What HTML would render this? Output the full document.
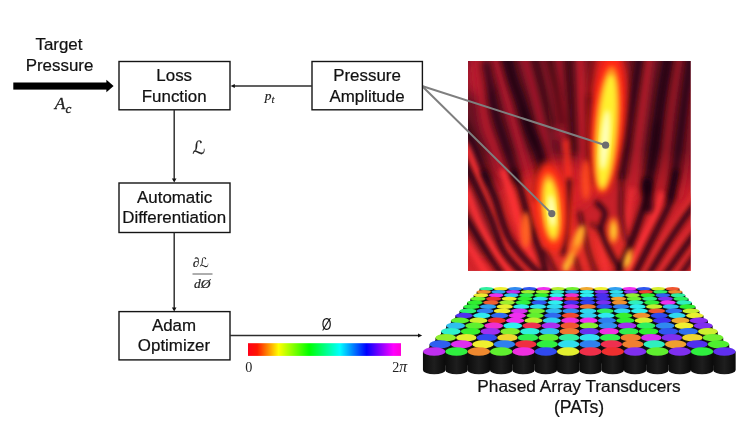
<!DOCTYPE html>
<html lang="en"><head><meta charset="utf-8"><title>Phased Array Transducer Optimization Diagram</title>
<style>html,body{margin:0;padding:0;background:#fff;}body{width:750px;height:421px;overflow:hidden;}svg{display:block;}.s{font-family:"Liberation Sans",Arial,sans-serif;font-size:16.9px;fill:#111;stroke:#111;stroke-width:0.22px;text-anchor:middle;}.m{font-family:"Liberation Serif","DejaVu Serif",serif;font-style:italic;fill:#222;}.r{font-family:"Liberation Serif","DejaVu Serif",serif;fill:#222;}.l{font-family:"DejaVu Sans","DejaVu Math TeX Gyre",sans-serif;font-style:italic;fill:#222;}</style></head><body>
<svg width="750" height="421" viewBox="0 0 750 421">
<rect width="750" height="421" fill="#fff"/>
<defs>
<clipPath id="hc"><rect x="468" y="61" width="222.5" height="209.7"/></clipPath>
<filter id="b1" x="-20%" y="-20%" width="140%" height="140%"><feGaussianBlur stdDeviation="1.2"/></filter>
<filter id="b2" x="-20%" y="-20%" width="140%" height="140%"><feGaussianBlur stdDeviation="2.5"/></filter>
<filter id="b3" x="-40%" y="-40%" width="180%" height="180%"><feGaussianBlur stdDeviation="3.9"/></filter>
<filter id="b5" x="-80%" y="-80%" width="260%" height="260%"><feGaussianBlur stdDeviation="6"/></filter>
<linearGradient id="hsv" x1="0" x2="1" y1="0" y2="0"><stop offset="0" stop-color="#ff0018"/><stop offset="0.06" stop-color="#ff1500"/><stop offset="0.2" stop-color="#ffff00"/><stop offset="0.4" stop-color="#00ff00"/><stop offset="0.6" stop-color="#00ffff"/><stop offset="0.775" stop-color="#0000ff"/><stop offset="0.95" stop-color="#ff00ff"/><stop offset="1" stop-color="#ff00d8"/></linearGradient>
<linearGradient id="cyl" x1="0" x2="1" y1="0" y2="0"><stop offset="0" stop-color="#0c0c0c"/><stop offset="0.5" stop-color="#1e1e1e"/><stop offset="1" stop-color="#0a0a0a"/></linearGradient>
</defs>
<g clip-path="url(#hc)">
<rect x="468" y="61" width="223" height="210" fill="#a5182a"/>
<linearGradient id="hb" x1="0" x2="0" y1="61" y2="271" gradientUnits="userSpaceOnUse"><stop offset="0" stop-color="#6a1324"/><stop offset="0.42" stop-color="#681222"/><stop offset="0.62" stop-color="#c4202a"/><stop offset="1" stop-color="#d4242a"/></linearGradient>
<rect x="468" y="61" width="223" height="210" fill="url(#hb)"/>
<g filter="url(#b5)">
<ellipse cx="560" cy="185" rx="36" ry="26" fill="#e02428" opacity="0.7"/>
<ellipse cx="607" cy="100" rx="22" ry="60" fill="#e82020" opacity="0.8"/>
<ellipse cx="478" cy="76" rx="14" ry="20" fill="#c01c30" opacity="0.9"/>
</g>
<g filter="url(#b3)" fill="none" stroke="#b4182a" stroke-linecap="round">
<path d="M476.0 50.0C476.3 51.7 476.5 48.3 478.0 60.0C479.5 71.7 482.3 105.7 485.0 120.0C487.7 134.3 491.0 137.3 494.0 146.0C497.0 154.7 501.5 167.7 503.0 172.0" stroke-width="11" opacity="0.95"/>
<path d="M492.0 50.0C492.3 51.0 491.5 47.8 494.0 56.0C496.5 64.2 502.7 84.0 507.0 99.0C511.3 114.0 516.7 134.2 520.0 146.0C523.3 157.8 524.5 161.8 526.7 170.0C528.9 178.2 532.0 190.8 533.0 195.0" stroke-width="9" opacity="0.95"/>
<path d="M522.0 50.0C522.3 51.0 521.7 47.8 524.0 56.0C526.3 64.2 532.3 84.0 536.0 99.0C539.7 114.0 543.4 134.2 546.0 146.0C548.6 157.8 550.6 166.0 551.5 170.0" stroke-width="7.5" opacity="0.85"/>
<path d="M541.0 50.0C542.8 57.3 548.7 79.3 551.5 94.0C554.3 108.7 556.9 130.7 558.0 138.0" stroke-width="5.5" opacity="0.8"/>
<path d="M558.0 50.0C559.1 62.5 563.3 108.3 564.6 125.0C565.9 141.7 565.8 145.8 566.0 150.0" stroke-width="7" opacity="0.9"/>
<path d="M580.0 50.0L583.0 176.0" stroke-width="8" opacity="0.9" stroke="#d01e2e"/>
<path d="M650.0 50.0C649.7 51.7 649.4 49.7 648.0 60.0C646.6 70.3 643.8 94.7 641.6 112.0C639.4 129.3 636.6 150.2 635.0 164.0C633.4 177.8 632.5 189.8 632.0 195.0" stroke-width="9" opacity="0.85" stroke="#c41c2c"/>
<path d="M680.0 50.0C679.7 51.7 679.7 49.7 678.0 60.0C676.3 70.3 672.4 93.7 670.0 112.0C667.6 130.3 666.0 155.3 663.8 170.0C661.6 184.7 658.1 195.0 657.0 200.0" stroke-width="9" opacity="0.6"/>
<path d="M694.0 90.0C693.7 91.5 693.3 85.7 692.0 99.0C690.7 112.3 688.0 153.5 686.0 170.0C684.0 186.5 681.0 193.3 680.0 198.0" stroke-width="6" opacity="0.55"/>
</g>
<g filter="url(#b3)" fill="none" stroke="#16040e" stroke-linecap="round">
<path d="M462.0 122.0C462.7 123.3 463.3 124.2 466.0 130.0C468.7 135.8 474.5 148.7 478.0 157.0C481.5 165.3 485.5 176.2 487.0 180.0" stroke-width="8" opacity="0.8"/>
<path d="M486.0 64.0C486.7 67.5 488.5 77.2 490.0 85.0C491.5 92.8 492.8 102.3 495.0 111.0C497.2 119.7 500.3 128.5 503.0 137.0C505.7 145.5 508.7 154.8 511.0 162.0C513.3 169.2 516.0 177.0 517.0 180.0" stroke-width="8" opacity="0.8"/>
<path d="M505.0 50.0C506.3 55.0 510.5 71.8 513.0 80.0C515.5 88.2 517.3 91.0 520.0 99.0C522.7 107.0 525.9 119.3 529.0 128.0C532.1 136.7 536.0 143.7 538.5 151.0C541.0 158.3 543.1 168.5 544.0 172.0" stroke-width="10.5" opacity="0.9"/>
<path d="M524.0 112.0C524.8 114.7 527.2 122.7 529.0 128.0C530.8 133.3 534.0 141.3 535.0 144.0" stroke-width="10" opacity="0.8"/>
<path d="M533.0 50.0C534.8 57.3 540.6 81.5 543.7 94.0C546.8 106.5 550.2 119.8 551.5 125.0" stroke-width="4.5" opacity="0.7"/>
<path d="M546.0 50.0C547.6 56.0 552.8 73.5 555.5 86.0C558.2 98.5 560.9 118.5 562.0 125.0" stroke-width="4.2" opacity="0.8"/>
<path d="M568.0 50.0C568.7 61.5 571.1 102.0 572.0 119.0C572.9 136.0 573.3 146.5 573.6 152.0" stroke-width="5" opacity="0.8"/>
<path d="M590.6 98.0L593.0 180.0" stroke-width="6" opacity="0.8"/>
<path d="M591.0 54.0L591.0 98.0" stroke-width="5" opacity="0.4"/>
<path d="M641.0 50.0C640.5 53.3 639.4 59.7 637.7 70.0C636.0 80.3 633.0 99.3 631.0 112.0C629.0 124.7 627.5 135.7 626.0 146.0C624.5 156.3 622.7 169.3 622.0 174.0" stroke-width="7.5" opacity="0.85"/>
<path d="M670.0 50.0C669.6 51.7 669.2 51.8 667.7 60.0C666.2 68.2 663.2 84.7 661.0 99.0C658.8 113.3 656.4 134.2 654.7 146.0C653.0 157.8 652.0 162.7 650.7 170.0C649.4 177.3 647.6 186.7 647.0 190.0" stroke-width="10" opacity="0.9"/>
<path d="M657.0 125.0C656.6 128.5 655.7 138.8 654.7 146.0C653.7 153.2 651.6 164.3 651.0 168.0" stroke-width="10" opacity="0.75"/>
<path d="M692.0 50.0C691.7 51.7 691.4 49.7 690.0 60.0C688.6 70.3 685.8 93.7 683.4 112.0C681.0 130.3 677.7 155.7 675.5 170.0C673.3 184.3 670.9 193.3 670.0 198.0" stroke-width="7.5" opacity="0.85"/>
</g>
<g filter="url(#b5)">
<ellipse cx="483" cy="215" rx="16" ry="45" fill="#6a121e" opacity="0.45"/>
<ellipse cx="585" cy="250" rx="50" ry="22" fill="#f03424" opacity="0.6"/>
<ellipse cx="535" cy="205" rx="30" ry="30" fill="#f03024" opacity="0.5"/>
</g>
<g filter="url(#b2)" fill="none" stroke="#ff3436" stroke-linecap="round">
<path d="M503.0 172.0C504.3 175.8 508.5 187.0 511.0 195.0C513.5 203.0 515.2 210.8 518.0 220.0C520.8 229.2 524.2 241.0 528.0 250.0C531.8 259.0 538.8 270.0 541.0 274.0" stroke-width="6.5" opacity="0.95"/>
<path d="M462.0 142.0C463.0 143.3 465.2 143.7 468.0 150.0C470.8 156.3 475.7 171.3 479.0 180.0C482.3 188.7 485.0 194.3 488.0 202.0C491.0 209.7 493.3 218.0 497.0 226.0C500.7 234.0 504.5 242.0 510.0 250.0C515.5 258.0 526.7 270.0 530.0 274.0" stroke-width="6.5" opacity="0.95"/>
<path d="M462.0 185.0C463.0 186.7 465.0 188.3 468.0 195.0C471.0 201.7 475.5 215.5 480.0 225.0C484.5 234.5 489.5 243.7 495.0 252.0C500.5 260.3 510.0 271.2 513.0 275.0" stroke-width="6.5" opacity="0.95"/>
<path d="M462.0 236.0C463.0 237.5 463.8 238.5 468.0 245.0C472.2 251.5 483.8 270.0 487.0 275.0" stroke-width="6.5" opacity="0.9"/>
<path d="M626.6 275.0C629.2 269.1 637.6 250.1 642.5 239.8C647.4 229.5 652.7 220.5 655.8 213.0C658.9 205.5 660.1 197.7 661.0 194.6" stroke-width="6" opacity="0.9"/>
<path d="M643.8 275.0C646.2 270.5 653.4 256.3 658.5 247.8C663.6 239.3 668.6 232.4 674.5 223.8C680.4 215.2 690.8 200.6 694.0 196.0" stroke-width="6" opacity="0.85" stroke="#e62e32"/>
<path d="M658.5 275.0C661.6 270.5 670.8 256.1 677.0 247.8C683.2 239.5 692.8 228.8 696.0 225.0" stroke-width="5.5" opacity="0.85" stroke="#e62e32"/>
<path d="M674.5 275.0L696.0 244.0" stroke-width="5.5" opacity="0.85" stroke="#e62e32"/>
<path d="M689.0 275.0L697.0 264.0" stroke-width="5" opacity="0.85"/>
<path d="M566.0 142.0C566.5 150.0 568.3 175.0 569.0 190.0C569.7 205.0 569.8 225.0 570.0 232.0" stroke-width="6" opacity="0.85" stroke="#ff3422"/>
<path d="M538.0 236.0L548.0 274.0" stroke-width="5" opacity="0.7"/>
<path d="M600.0 240.0L606.0 272.0" stroke-width="5" opacity="0.7"/>
<path d="M632.0 190.0C631.3 194.2 629.3 206.7 628.0 215.0C626.7 223.3 624.7 235.8 624.0 240.0" stroke-width="5" opacity="0.7"/>
</g>
<g filter="url(#b2)" fill="none" stroke="#16040e" stroke-linecap="round">
<path d="M462.0 212.0C463.0 213.5 463.6 213.8 468.0 221.0C472.4 228.2 482.9 245.8 488.7 255.0C494.5 264.2 500.6 272.5 503.0 276.0" stroke-width="5.5" opacity="0.9"/>
<path d="M462.0 160.0C463.0 161.7 464.8 164.0 468.0 170.0C471.2 176.0 477.1 187.7 481.0 196.0C484.9 204.3 487.7 210.7 491.5 220.0C495.3 229.3 498.4 242.7 504.0 252.0C509.6 261.3 521.5 272.0 525.0 276.0" stroke-width="6" opacity="0.9"/>
<path d="M484.0 173.0C484.5 174.2 485.2 175.8 487.0 180.0C488.8 184.2 492.5 191.3 495.0 198.0C497.5 204.7 499.7 213.3 502.0 220.0C504.3 226.7 505.7 232.0 509.0 238.0C512.3 244.0 516.8 250.0 522.0 256.0C527.2 262.0 537.0 271.0 540.0 274.0" stroke-width="6" opacity="0.88"/>
<path d="M514.0 172.0C515.0 174.7 517.5 180.0 520.0 188.0C522.5 196.0 526.3 211.3 529.0 220.0C531.7 228.7 534.0 234.2 536.0 240.0C538.0 245.8 539.2 249.0 541.0 255.0C542.8 261.0 546.0 272.5 547.0 276.0" stroke-width="6" opacity="0.9"/>
<path d="M569.0 181.0C568.5 188.7 567.0 215.0 566.0 227.0C565.0 239.0 563.5 248.7 563.0 253.0" stroke-width="5.5" opacity="0.8"/>
<path d="M597.0 203.0C598.3 204.7 604.3 208.7 605.0 213.0C605.7 217.3 600.5 223.2 601.0 229.0C601.5 234.8 605.0 241.5 608.0 248.0C611.0 254.5 617.2 264.7 619.0 268.0" stroke-width="5" opacity="0.9"/>
<path d="M592.0 224.0L602.6 232.0" stroke-width="4" opacity="0.6"/>
<path d="M647.0 186.0C646.9 187.0 647.0 188.8 646.5 192.0C646.0 195.2 645.6 199.2 644.0 205.0C642.4 210.8 639.5 219.4 637.0 226.5C634.5 233.6 632.3 239.6 629.0 247.8C625.7 256.1 619.0 271.3 617.0 276.0" stroke-width="6.5" opacity="0.92"/>
<path d="M647.0 182.0L648.0 208.0" stroke-width="10" opacity="0.75"/>
<path d="M676.0 172.0C675.3 175.3 673.2 186.5 672.0 192.0C670.8 197.5 671.2 199.2 669.0 205.0C666.8 210.8 662.0 219.4 658.5 226.5C655.0 233.6 652.1 239.6 648.0 247.8C643.9 256.1 636.3 271.3 634.0 276.0" stroke-width="6" opacity="0.88"/>
<path d="M698.0 200.0C697.0 201.3 694.6 204.5 692.0 208.0C689.4 211.5 686.6 214.8 682.4 221.0C678.1 227.2 672.2 235.8 666.5 245.0C660.8 254.2 651.1 270.8 648.0 276.0" stroke-width="5.5" opacity="0.9"/>
<path d="M698.0 230.0C697.0 231.2 694.6 233.6 692.0 237.0C689.4 240.4 687.1 243.9 682.4 250.4C677.7 256.9 667.1 271.7 664.0 276.0" stroke-width="5.5" opacity="0.9"/>
<path d="M698.0 251.0C697.0 252.2 695.0 254.2 692.0 258.4C689.0 262.6 682.0 273.1 680.0 276.0" stroke-width="5" opacity="0.85"/>
<path d="M545.0 250.0L556.0 274.0" stroke-width="4" opacity="0.75"/>
<path d="M580.0 213.0C581.3 219.2 585.3 239.8 588.0 250.0C590.7 260.2 594.7 270.0 596.0 274.0" stroke-width="4" opacity="0.7"/>
<path d="M538.0 170.0L536.0 200.0" stroke-width="5" opacity="0.5"/>
<path d="M622.0 174.0C621.8 180.5 620.3 202.0 621.0 213.0C621.7 224.0 625.2 235.5 626.0 240.0" stroke-width="4.5" opacity="0.6"/>
<path d="M575.0 258.0L580.0 274.0" stroke-width="3.5" opacity="0.7"/>
</g>
<g filter="url(#b2)">
<ellipse cx="525.7" cy="230" rx="5" ry="18" fill="#ff6220"/>
<ellipse cx="586" cy="180" rx="5" ry="20" fill="#ff4a1e" opacity="0.9"/>
<ellipse cx="613.5" cy="230.5" rx="5" ry="13" fill="#ff7a1e"/>
<ellipse cx="613.5" cy="231" rx="2.6" ry="8.5" fill="#ffd030"/>
<ellipse cx="577.5" cy="241" rx="5.5" ry="17" fill="#ff7a20" transform="rotate(20 577.5 241)"/>
<ellipse cx="570" cy="260" rx="3.5" ry="8" fill="#ffb028" transform="rotate(15 570 260)"/>
<ellipse cx="628" cy="259" rx="4" ry="11" fill="#ff8a20" transform="rotate(16 628 259)"/>
<ellipse cx="628" cy="260" rx="2" ry="6" fill="#ffd838" transform="rotate(16 628 260)"/>
<ellipse cx="566" cy="267" rx="3" ry="6" fill="#ffc030"/>
<ellipse cx="579.5" cy="236" rx="3" ry="11" fill="#ffb42a" transform="rotate(18 579.5 236)"/>
</g>
<g transform="rotate(4.6 607 128)">
<ellipse cx="607" cy="122" rx="17" ry="72" fill="#ff2818" filter="url(#b3)"/>
<ellipse cx="607" cy="129" rx="12.5" ry="63" fill="#ff8a1c" filter="url(#b2)"/>
<ellipse cx="607" cy="131" rx="8.8" ry="57" fill="#fff02e" filter="url(#b2)"/>
<ellipse cx="606" cy="140" rx="4.6" ry="30" fill="#ffffb8" filter="url(#b2)"/>
</g>
<g transform="rotate(-5 551 208)">
<ellipse cx="551" cy="207" rx="16.5" ry="45" fill="#ff2e18" filter="url(#b3)"/>
<ellipse cx="551" cy="208" rx="10.5" ry="35" fill="#ff8a1c" filter="url(#b2)"/>
<ellipse cx="551" cy="209" rx="7" ry="29.5" fill="#fff02e" filter="url(#b2)"/>
<ellipse cx="551.5" cy="211" rx="3.8" ry="16" fill="#ffffb8" filter="url(#b2)"/>
</g>
</g>
<g stroke="#7f7f7f" stroke-width="2" fill="none" stroke-linecap="round">
<line x1="422" y1="86" x2="605.6" y2="145.2"/><line x1="422" y1="86" x2="551.8" y2="213.6"/>
</g>
<circle cx="605.6" cy="145.2" r="3.6" fill="#6e6e6e"/><circle cx="551.8" cy="213.6" r="3.6" fill="#6e6e6e"/>
<rect x="119" y="61.5" width="111" height="48.3" fill="#fff" stroke="#141414" stroke-width="1.4"/>
<rect x="312" y="61.5" width="110.4" height="48.3" fill="#fff" stroke="#141414" stroke-width="1.4"/>
<rect x="119" y="183" width="111" height="49.5" fill="#fff" stroke="#141414" stroke-width="1.4"/>
<rect x="119" y="311.6" width="111" height="48.3" fill="#fff" stroke="#141414" stroke-width="1.4"/>
<g stroke="#2c2c2c" stroke-width="1.45" fill="none">
<line x1="312" y1="86" x2="233" y2="86"/>
<line x1="174.2" y1="110" x2="174.2" y2="180"/>
<line x1="174.2" y1="232.5" x2="174.2" y2="309"/>
<line x1="230" y1="335.5" x2="419" y2="335.5"/>
</g>
<g fill="#111">
<polygon points="230.6,86 234.8,84 234.8,88"/>
<polygon points="174.2,182.6 171.9,178.6 176.5,178.6"/>
<polygon points="174.2,311.6 171.9,307.6 176.5,307.6"/>
<polygon points="422.2,335.5 418,333.5 418,337.5"/>
<rect x="13.3" y="82.5" width="94" height="7.1" fill="#000"/>
<polygon points="113.6,86 106.4,79.8 106.4,92.3" fill="#000"/>
</g>
<text x="59" y="50" class="s" >Target</text>
<text x="59.5" y="70.7" class="s" >Pressure</text>
<text x="174.2" y="81" class="s" >Loss</text>
<text x="174.2" y="101.7" class="s" >Function</text>
<text x="367" y="81" class="s" >Pressure</text>
<text x="367" y="101.7" class="s" >Amplitude</text>
<text x="174.6" y="202.5" class="s" >Automatic</text>
<text x="174.2" y="223" class="s" >Differentiation</text>
<text x="174" y="330.5" class="s" >Adam</text>
<text x="174" y="350.7" class="s" >Optimizer</text>
<text x="579" y="392.3" class="s" style="font-size:17.25px">Phased Array Transducers</text>
<text x="579" y="412.5" class="s" style="font-size:17.6px">(PATs)</text>
<text x="54.8" y="108.8" class="m" font-size="17.4" stroke="#222" stroke-width="0.3">A<tspan font-size="13.2" dy="3.8">c</tspan></text>
<text x="264.8" y="100" class="m" font-size="13.5" stroke="#222" stroke-width="0.2">p<tspan font-size="10.5" dy="2.6">t</tspan></text>
<text x="192.6" y="153.6" class="l" font-size="18" stroke="#222" stroke-width="0.2">&#x2112;</text>
<text x="192.8" y="267.3" class="m" font-size="13.5" stroke="#222" stroke-width="0.2">&#x2202;<tspan class="l" font-size="13" stroke="none">&#x2112;</tspan></text>
<line x1="192.5" y1="274" x2="212.5" y2="274" stroke="#333" stroke-width="0.8"/>
<text x="194" y="287.6" class="m" font-size="13.5" stroke="#222" stroke-width="0.2">d&#xD8;</text>
<text transform="translate(326.6,329.6) scale(0.8,1)" class="s" style="font-size:15.6px;stroke-width:0">&#xD8;</text>
<text x="245.2" y="371.6" class="r" font-size="14.2">0</text>
<text x="392.2" y="371.6" class="r" font-size="14.2">2<tspan font-style="italic" font-size="15.8">&#x3C0;</tspan></text>
<rect x="248" y="343.2" width="153" height="12.7" fill="url(#hsv)"/>
<g>
<polygon points="481,288.7 678,288.7 733,352 425,352" fill="#0c0c0c"/>
<path d="M479.51 288.69v11.86a6.95 1.79 0 0 0 13.89 0v-11.86z" fill="url(#cyl)"/>
<path d="M493.83 288.69v11.86a6.95 1.79 0 0 0 13.89 0v-11.86z" fill="url(#cyl)"/>
<path d="M508.14 288.69v11.86a6.95 1.79 0 0 0 13.89 0v-11.86z" fill="url(#cyl)"/>
<path d="M522.45 288.69v11.86a6.95 1.79 0 0 0 13.89 0v-11.86z" fill="url(#cyl)"/>
<path d="M536.77 288.69v11.86a6.95 1.79 0 0 0 13.89 0v-11.86z" fill="url(#cyl)"/>
<path d="M551.08 288.69v11.86a6.95 1.79 0 0 0 13.89 0v-11.86z" fill="url(#cyl)"/>
<path d="M565.40 288.69v11.86a6.95 1.79 0 0 0 13.89 0v-11.86z" fill="url(#cyl)"/>
<path d="M579.71 288.69v11.86a6.95 1.79 0 0 0 13.89 0v-11.86z" fill="url(#cyl)"/>
<path d="M594.03 288.69v11.86a6.95 1.79 0 0 0 13.89 0v-11.86z" fill="url(#cyl)"/>
<path d="M608.34 288.69v11.86a6.95 1.79 0 0 0 13.89 0v-11.86z" fill="url(#cyl)"/>
<path d="M622.65 288.69v11.86a6.95 1.79 0 0 0 13.89 0v-11.86z" fill="url(#cyl)"/>
<path d="M636.97 288.69v11.86a6.95 1.79 0 0 0 13.89 0v-11.86z" fill="url(#cyl)"/>
<path d="M651.28 288.69v11.86a6.95 1.79 0 0 0 13.89 0v-11.86z" fill="url(#cyl)"/>
<path d="M665.60 288.69v11.86a6.95 1.79 0 0 0 13.89 0v-11.86z" fill="url(#cyl)"/>
<ellipse cx="486.46" cy="288.69" rx="6.95" ry="1.79" fill="#2fef9f"/>
<ellipse cx="500.77" cy="288.69" rx="6.95" ry="1.79" fill="#efef2f"/>
<ellipse cx="515.09" cy="288.69" rx="6.95" ry="1.79" fill="#2f89ef"/>
<ellipse cx="529.40" cy="288.69" rx="6.95" ry="1.79" fill="#2f56ef"/>
<ellipse cx="543.71" cy="288.69" rx="6.95" ry="1.79" fill="#ef2fef"/>
<ellipse cx="558.03" cy="288.69" rx="6.95" ry="1.79" fill="#b6ef2f"/>
<ellipse cx="572.34" cy="288.69" rx="6.95" ry="1.79" fill="#6fef2f"/>
<ellipse cx="586.66" cy="288.69" rx="6.95" ry="1.79" fill="#efa92f"/>
<ellipse cx="600.97" cy="288.69" rx="6.95" ry="1.79" fill="#efef2f"/>
<ellipse cx="615.29" cy="288.69" rx="6.95" ry="1.79" fill="#2f9fef"/>
<ellipse cx="629.60" cy="288.69" rx="6.95" ry="1.79" fill="#ef2fef"/>
<ellipse cx="643.91" cy="288.69" rx="6.95" ry="1.79" fill="#2f56ef"/>
<ellipse cx="658.23" cy="288.69" rx="6.95" ry="1.79" fill="#d6ef2f"/>
<ellipse cx="672.54" cy="288.69" rx="6.95" ry="1.79" fill="#ef562f"/>
<path d="M476.65 291.87v12.20a7.16 1.89 0 0 0 14.32 0v-12.20z" fill="url(#cyl)"/>
<path d="M491.37 291.87v12.20a7.16 1.89 0 0 0 14.32 0v-12.20z" fill="url(#cyl)"/>
<path d="M506.09 291.87v12.20a7.16 1.89 0 0 0 14.32 0v-12.20z" fill="url(#cyl)"/>
<path d="M520.81 291.87v12.20a7.16 1.89 0 0 0 14.32 0v-12.20z" fill="url(#cyl)"/>
<path d="M535.53 291.87v12.20a7.16 1.89 0 0 0 14.32 0v-12.20z" fill="url(#cyl)"/>
<path d="M550.25 291.87v12.20a7.16 1.89 0 0 0 14.32 0v-12.20z" fill="url(#cyl)"/>
<path d="M564.97 291.87v12.20a7.16 1.89 0 0 0 14.32 0v-12.20z" fill="url(#cyl)"/>
<path d="M579.69 291.87v12.20a7.16 1.89 0 0 0 14.32 0v-12.20z" fill="url(#cyl)"/>
<path d="M594.41 291.87v12.20a7.16 1.89 0 0 0 14.32 0v-12.20z" fill="url(#cyl)"/>
<path d="M609.13 291.87v12.20a7.16 1.89 0 0 0 14.32 0v-12.20z" fill="url(#cyl)"/>
<path d="M623.85 291.87v12.20a7.16 1.89 0 0 0 14.32 0v-12.20z" fill="url(#cyl)"/>
<path d="M638.57 291.87v12.20a7.16 1.89 0 0 0 14.32 0v-12.20z" fill="url(#cyl)"/>
<path d="M653.29 291.87v12.20a7.16 1.89 0 0 0 14.32 0v-12.20z" fill="url(#cyl)"/>
<path d="M668.01 291.87v12.20a7.16 1.89 0 0 0 14.32 0v-12.20z" fill="url(#cyl)"/>
<ellipse cx="483.81" cy="291.87" rx="7.16" ry="1.89" fill="#ef8f2f"/>
<ellipse cx="498.53" cy="291.87" rx="7.16" ry="1.89" fill="#2f9fef"/>
<ellipse cx="513.25" cy="291.87" rx="7.16" ry="1.89" fill="#bf2fef"/>
<ellipse cx="527.97" cy="291.87" rx="7.16" ry="1.89" fill="#9fef2f"/>
<ellipse cx="542.69" cy="291.87" rx="7.16" ry="1.89" fill="#9fef2f"/>
<ellipse cx="557.41" cy="291.87" rx="7.16" ry="1.89" fill="#2fefbf"/>
<ellipse cx="572.13" cy="291.87" rx="7.16" ry="1.89" fill="#2f8fef"/>
<ellipse cx="586.85" cy="291.87" rx="7.16" ry="1.89" fill="#2fefef"/>
<ellipse cx="601.57" cy="291.87" rx="7.16" ry="1.89" fill="#7f2fef"/>
<ellipse cx="616.29" cy="291.87" rx="7.16" ry="1.89" fill="#2fdfef"/>
<ellipse cx="631.01" cy="291.87" rx="7.16" ry="1.89" fill="#8f2fef"/>
<ellipse cx="645.73" cy="291.87" rx="7.16" ry="1.89" fill="#ef3f2f"/>
<ellipse cx="660.45" cy="291.87" rx="7.16" ry="1.89" fill="#2fef5f"/>
<ellipse cx="675.17" cy="291.87" rx="7.16" ry="1.89" fill="#ef892f"/>
<path d="M473.62 295.25v12.56a7.38 2.00 0 0 0 14.77 0v-12.56z" fill="url(#cyl)"/>
<path d="M488.77 295.25v12.56a7.38 2.00 0 0 0 14.77 0v-12.56z" fill="url(#cyl)"/>
<path d="M503.92 295.25v12.56a7.38 2.00 0 0 0 14.77 0v-12.56z" fill="url(#cyl)"/>
<path d="M519.07 295.25v12.56a7.38 2.00 0 0 0 14.77 0v-12.56z" fill="url(#cyl)"/>
<path d="M534.22 295.25v12.56a7.38 2.00 0 0 0 14.77 0v-12.56z" fill="url(#cyl)"/>
<path d="M549.37 295.25v12.56a7.38 2.00 0 0 0 14.77 0v-12.56z" fill="url(#cyl)"/>
<path d="M564.52 295.25v12.56a7.38 2.00 0 0 0 14.77 0v-12.56z" fill="url(#cyl)"/>
<path d="M579.67 295.25v12.56a7.38 2.00 0 0 0 14.77 0v-12.56z" fill="url(#cyl)"/>
<path d="M594.82 295.25v12.56a7.38 2.00 0 0 0 14.77 0v-12.56z" fill="url(#cyl)"/>
<path d="M609.97 295.25v12.56a7.38 2.00 0 0 0 14.77 0v-12.56z" fill="url(#cyl)"/>
<path d="M625.12 295.25v12.56a7.38 2.00 0 0 0 14.77 0v-12.56z" fill="url(#cyl)"/>
<path d="M640.27 295.25v12.56a7.38 2.00 0 0 0 14.77 0v-12.56z" fill="url(#cyl)"/>
<path d="M655.42 295.25v12.56a7.38 2.00 0 0 0 14.77 0v-12.56z" fill="url(#cyl)"/>
<path d="M670.57 295.25v12.56a7.38 2.00 0 0 0 14.77 0v-12.56z" fill="url(#cyl)"/>
<ellipse cx="481.00" cy="295.25" rx="7.38" ry="2.00" fill="#efe92f"/>
<ellipse cx="496.15" cy="295.25" rx="7.38" ry="2.00" fill="#ef2fef"/>
<ellipse cx="511.30" cy="295.25" rx="7.38" ry="2.00" fill="#2fc9ef"/>
<ellipse cx="526.45" cy="295.25" rx="7.38" ry="2.00" fill="#2fef4f"/>
<ellipse cx="541.60" cy="295.25" rx="7.38" ry="2.00" fill="#2fef2f"/>
<ellipse cx="556.75" cy="295.25" rx="7.38" ry="2.00" fill="#2fefef"/>
<ellipse cx="571.90" cy="295.25" rx="7.38" ry="2.00" fill="#ef2fc9"/>
<ellipse cx="587.05" cy="295.25" rx="7.38" ry="2.00" fill="#2fefef"/>
<ellipse cx="602.20" cy="295.25" rx="7.38" ry="2.00" fill="#492fef"/>
<ellipse cx="617.36" cy="295.25" rx="7.38" ry="2.00" fill="#2fcfef"/>
<ellipse cx="632.51" cy="295.25" rx="7.38" ry="2.00" fill="#8fef2f"/>
<ellipse cx="647.66" cy="295.25" rx="7.38" ry="2.00" fill="#2fef2f"/>
<ellipse cx="662.81" cy="295.25" rx="7.38" ry="2.00" fill="#2f5fef"/>
<ellipse cx="677.96" cy="295.25" rx="7.38" ry="2.00" fill="#2fef9f"/>
<path d="M470.40 298.82v12.93a7.62 2.13 0 0 0 15.25 0v-12.93z" fill="url(#cyl)"/>
<path d="M486.01 298.82v12.93a7.62 2.13 0 0 0 15.25 0v-12.93z" fill="url(#cyl)"/>
<path d="M501.62 298.82v12.93a7.62 2.13 0 0 0 15.25 0v-12.93z" fill="url(#cyl)"/>
<path d="M517.22 298.82v12.93a7.62 2.13 0 0 0 15.25 0v-12.93z" fill="url(#cyl)"/>
<path d="M532.83 298.82v12.93a7.62 2.13 0 0 0 15.25 0v-12.93z" fill="url(#cyl)"/>
<path d="M548.44 298.82v12.93a7.62 2.13 0 0 0 15.25 0v-12.93z" fill="url(#cyl)"/>
<path d="M564.04 298.82v12.93a7.62 2.13 0 0 0 15.25 0v-12.93z" fill="url(#cyl)"/>
<path d="M579.65 298.82v12.93a7.62 2.13 0 0 0 15.25 0v-12.93z" fill="url(#cyl)"/>
<path d="M595.25 298.82v12.93a7.62 2.13 0 0 0 15.25 0v-12.93z" fill="url(#cyl)"/>
<path d="M610.86 298.82v12.93a7.62 2.13 0 0 0 15.25 0v-12.93z" fill="url(#cyl)"/>
<path d="M626.47 298.82v12.93a7.62 2.13 0 0 0 15.25 0v-12.93z" fill="url(#cyl)"/>
<path d="M642.07 298.82v12.93a7.62 2.13 0 0 0 15.25 0v-12.93z" fill="url(#cyl)"/>
<path d="M657.68 298.82v12.93a7.62 2.13 0 0 0 15.25 0v-12.93z" fill="url(#cyl)"/>
<path d="M673.29 298.82v12.93a7.62 2.13 0 0 0 15.25 0v-12.93z" fill="url(#cyl)"/>
<ellipse cx="478.03" cy="298.82" rx="7.62" ry="2.13" fill="#6fef2f"/>
<ellipse cx="493.63" cy="298.82" rx="7.62" ry="2.13" fill="#ef2f2f"/>
<ellipse cx="509.24" cy="298.82" rx="7.62" ry="2.13" fill="#efef2f"/>
<ellipse cx="524.85" cy="298.82" rx="7.62" ry="2.13" fill="#2fef2f"/>
<ellipse cx="540.45" cy="298.82" rx="7.62" ry="2.13" fill="#2fdfef"/>
<ellipse cx="556.06" cy="298.82" rx="7.62" ry="2.13" fill="#ef2fef"/>
<ellipse cx="571.66" cy="298.82" rx="7.62" ry="2.13" fill="#ef2f2f"/>
<ellipse cx="587.27" cy="298.82" rx="7.62" ry="2.13" fill="#2f49ef"/>
<ellipse cx="602.88" cy="298.82" rx="7.62" ry="2.13" fill="#492fef"/>
<ellipse cx="618.48" cy="298.82" rx="7.62" ry="2.13" fill="#ef9f2f"/>
<ellipse cx="634.09" cy="298.82" rx="7.62" ry="2.13" fill="#6fef2f"/>
<ellipse cx="649.70" cy="298.82" rx="7.62" ry="2.13" fill="#2fef7f"/>
<ellipse cx="665.30" cy="298.82" rx="7.62" ry="2.13" fill="#7f2fef"/>
<ellipse cx="680.91" cy="298.82" rx="7.62" ry="2.13" fill="#2fef5f"/>
<path d="M466.99 302.62v13.34a7.88 2.26 0 0 0 15.76 0v-13.34z" fill="url(#cyl)"/>
<path d="M483.08 302.62v13.34a7.88 2.26 0 0 0 15.76 0v-13.34z" fill="url(#cyl)"/>
<path d="M499.17 302.62v13.34a7.88 2.26 0 0 0 15.76 0v-13.34z" fill="url(#cyl)"/>
<path d="M515.26 302.62v13.34a7.88 2.26 0 0 0 15.76 0v-13.34z" fill="url(#cyl)"/>
<path d="M531.35 302.62v13.34a7.88 2.26 0 0 0 15.76 0v-13.34z" fill="url(#cyl)"/>
<path d="M547.44 302.62v13.34a7.88 2.26 0 0 0 15.76 0v-13.34z" fill="url(#cyl)"/>
<path d="M563.53 302.62v13.34a7.88 2.26 0 0 0 15.76 0v-13.34z" fill="url(#cyl)"/>
<path d="M579.62 302.62v13.34a7.88 2.26 0 0 0 15.76 0v-13.34z" fill="url(#cyl)"/>
<path d="M595.71 302.62v13.34a7.88 2.26 0 0 0 15.76 0v-13.34z" fill="url(#cyl)"/>
<path d="M611.80 302.62v13.34a7.88 2.26 0 0 0 15.76 0v-13.34z" fill="url(#cyl)"/>
<path d="M627.89 302.62v13.34a7.88 2.26 0 0 0 15.76 0v-13.34z" fill="url(#cyl)"/>
<path d="M643.98 302.62v13.34a7.88 2.26 0 0 0 15.76 0v-13.34z" fill="url(#cyl)"/>
<path d="M660.07 302.62v13.34a7.88 2.26 0 0 0 15.76 0v-13.34z" fill="url(#cyl)"/>
<path d="M676.16 302.62v13.34a7.88 2.26 0 0 0 15.76 0v-13.34z" fill="url(#cyl)"/>
<ellipse cx="474.87" cy="302.62" rx="7.88" ry="2.26" fill="#2fef2f"/>
<ellipse cx="490.96" cy="302.62" rx="7.88" ry="2.26" fill="#ef5f2f"/>
<ellipse cx="507.05" cy="302.62" rx="7.88" ry="2.26" fill="#9fef2f"/>
<ellipse cx="523.14" cy="302.62" rx="7.88" ry="2.26" fill="#2fef3f"/>
<ellipse cx="539.23" cy="302.62" rx="7.88" ry="2.26" fill="#2f56ef"/>
<ellipse cx="555.32" cy="302.62" rx="7.88" ry="2.26" fill="#2fefef"/>
<ellipse cx="571.41" cy="302.62" rx="7.88" ry="2.26" fill="#3f2fef"/>
<ellipse cx="587.50" cy="302.62" rx="7.88" ry="2.26" fill="#2f3fef"/>
<ellipse cx="603.59" cy="302.62" rx="7.88" ry="2.26" fill="#762fef"/>
<ellipse cx="619.68" cy="302.62" rx="7.88" ry="2.26" fill="#ef8f2f"/>
<ellipse cx="635.77" cy="302.62" rx="7.88" ry="2.26" fill="#2fefbf"/>
<ellipse cx="651.86" cy="302.62" rx="7.88" ry="2.26" fill="#2fef3f"/>
<ellipse cx="667.95" cy="302.62" rx="7.88" ry="2.26" fill="#ef2fef"/>
<ellipse cx="684.04" cy="302.62" rx="7.88" ry="2.26" fill="#2fefbf"/>
<path d="M463.36 306.66v13.76a8.15 2.41 0 0 0 16.30 0v-13.76z" fill="url(#cyl)"/>
<path d="M479.96 306.66v13.76a8.15 2.41 0 0 0 16.30 0v-13.76z" fill="url(#cyl)"/>
<path d="M496.57 306.66v13.76a8.15 2.41 0 0 0 16.30 0v-13.76z" fill="url(#cyl)"/>
<path d="M513.17 306.66v13.76a8.15 2.41 0 0 0 16.30 0v-13.76z" fill="url(#cyl)"/>
<path d="M529.78 306.66v13.76a8.15 2.41 0 0 0 16.30 0v-13.76z" fill="url(#cyl)"/>
<path d="M546.38 306.66v13.76a8.15 2.41 0 0 0 16.30 0v-13.76z" fill="url(#cyl)"/>
<path d="M562.99 306.66v13.76a8.15 2.41 0 0 0 16.30 0v-13.76z" fill="url(#cyl)"/>
<path d="M579.59 306.66v13.76a8.15 2.41 0 0 0 16.30 0v-13.76z" fill="url(#cyl)"/>
<path d="M596.20 306.66v13.76a8.15 2.41 0 0 0 16.30 0v-13.76z" fill="url(#cyl)"/>
<path d="M612.80 306.66v13.76a8.15 2.41 0 0 0 16.30 0v-13.76z" fill="url(#cyl)"/>
<path d="M629.41 306.66v13.76a8.15 2.41 0 0 0 16.30 0v-13.76z" fill="url(#cyl)"/>
<path d="M646.01 306.66v13.76a8.15 2.41 0 0 0 16.30 0v-13.76z" fill="url(#cyl)"/>
<path d="M662.62 306.66v13.76a8.15 2.41 0 0 0 16.30 0v-13.76z" fill="url(#cyl)"/>
<path d="M679.23 306.66v13.76a8.15 2.41 0 0 0 16.30 0v-13.76z" fill="url(#cyl)"/>
<ellipse cx="471.51" cy="306.66" rx="8.15" ry="2.41" fill="#2fef3f"/>
<ellipse cx="488.11" cy="306.66" rx="8.15" ry="2.41" fill="#2f9fef"/>
<ellipse cx="504.72" cy="306.66" rx="8.15" ry="2.41" fill="#e9ef2f"/>
<ellipse cx="521.32" cy="306.66" rx="8.15" ry="2.41" fill="#2fefe9"/>
<ellipse cx="537.93" cy="306.66" rx="8.15" ry="2.41" fill="#2fdfef"/>
<ellipse cx="554.53" cy="306.66" rx="8.15" ry="2.41" fill="#2fd9ef"/>
<ellipse cx="571.14" cy="306.66" rx="8.15" ry="2.41" fill="#bf2fef"/>
<ellipse cx="587.75" cy="306.66" rx="8.15" ry="2.41" fill="#ef762f"/>
<ellipse cx="604.35" cy="306.66" rx="8.15" ry="2.41" fill="#2f49ef"/>
<ellipse cx="620.96" cy="306.66" rx="8.15" ry="2.41" fill="#2f7fef"/>
<ellipse cx="637.56" cy="306.66" rx="8.15" ry="2.41" fill="#2fefef"/>
<ellipse cx="654.17" cy="306.66" rx="8.15" ry="2.41" fill="#bfef2f"/>
<ellipse cx="670.77" cy="306.66" rx="8.15" ry="2.41" fill="#2fbfef"/>
<ellipse cx="687.38" cy="306.66" rx="8.15" ry="2.41" fill="#2fef2f"/>
<path d="M459.48 310.97v14.22a8.44 2.57 0 0 0 16.89 0v-14.22z" fill="url(#cyl)"/>
<path d="M476.64 310.97v14.22a8.44 2.57 0 0 0 16.89 0v-14.22z" fill="url(#cyl)"/>
<path d="M493.79 310.97v14.22a8.44 2.57 0 0 0 16.89 0v-14.22z" fill="url(#cyl)"/>
<path d="M510.94 310.97v14.22a8.44 2.57 0 0 0 16.89 0v-14.22z" fill="url(#cyl)"/>
<path d="M528.10 310.97v14.22a8.44 2.57 0 0 0 16.89 0v-14.22z" fill="url(#cyl)"/>
<path d="M545.25 310.97v14.22a8.44 2.57 0 0 0 16.89 0v-14.22z" fill="url(#cyl)"/>
<path d="M562.41 310.97v14.22a8.44 2.57 0 0 0 16.89 0v-14.22z" fill="url(#cyl)"/>
<path d="M579.56 310.97v14.22a8.44 2.57 0 0 0 16.89 0v-14.22z" fill="url(#cyl)"/>
<path d="M596.72 310.97v14.22a8.44 2.57 0 0 0 16.89 0v-14.22z" fill="url(#cyl)"/>
<path d="M613.87 310.97v14.22a8.44 2.57 0 0 0 16.89 0v-14.22z" fill="url(#cyl)"/>
<path d="M631.02 310.97v14.22a8.44 2.57 0 0 0 16.89 0v-14.22z" fill="url(#cyl)"/>
<path d="M648.18 310.97v14.22a8.44 2.57 0 0 0 16.89 0v-14.22z" fill="url(#cyl)"/>
<path d="M665.33 310.97v14.22a8.44 2.57 0 0 0 16.89 0v-14.22z" fill="url(#cyl)"/>
<path d="M682.49 310.97v14.22a8.44 2.57 0 0 0 16.89 0v-14.22z" fill="url(#cyl)"/>
<ellipse cx="467.93" cy="310.97" rx="8.44" ry="2.57" fill="#2fef6f"/>
<ellipse cx="485.08" cy="310.97" rx="8.44" ry="2.57" fill="#2f7fef"/>
<ellipse cx="502.23" cy="310.97" rx="8.44" ry="2.57" fill="#efef2f"/>
<ellipse cx="519.39" cy="310.97" rx="8.44" ry="2.57" fill="#d62fef"/>
<ellipse cx="536.54" cy="310.97" rx="8.44" ry="2.57" fill="#6fef2f"/>
<ellipse cx="553.70" cy="310.97" rx="8.44" ry="2.57" fill="#2fb6ef"/>
<ellipse cx="570.85" cy="310.97" rx="8.44" ry="2.57" fill="#2f89ef"/>
<ellipse cx="588.01" cy="310.97" rx="8.44" ry="2.57" fill="#2fd9ef"/>
<ellipse cx="605.16" cy="310.97" rx="8.44" ry="2.57" fill="#2fef5f"/>
<ellipse cx="622.32" cy="310.97" rx="8.44" ry="2.57" fill="#2fd9ef"/>
<ellipse cx="639.47" cy="310.97" rx="8.44" ry="2.57" fill="#2fefef"/>
<ellipse cx="656.62" cy="310.97" rx="8.44" ry="2.57" fill="#ef562f"/>
<ellipse cx="673.78" cy="310.97" rx="8.44" ry="2.57" fill="#2f6fef"/>
<ellipse cx="690.93" cy="310.97" rx="8.44" ry="2.57" fill="#c9ef2f"/>
<path d="M455.34 315.57v14.70a8.76 2.75 0 0 0 17.52 0v-14.70z" fill="url(#cyl)"/>
<path d="M473.08 315.57v14.70a8.76 2.75 0 0 0 17.52 0v-14.70z" fill="url(#cyl)"/>
<path d="M490.82 315.57v14.70a8.76 2.75 0 0 0 17.52 0v-14.70z" fill="url(#cyl)"/>
<path d="M508.56 315.57v14.70a8.76 2.75 0 0 0 17.52 0v-14.70z" fill="url(#cyl)"/>
<path d="M526.30 315.57v14.70a8.76 2.75 0 0 0 17.52 0v-14.70z" fill="url(#cyl)"/>
<path d="M544.04 315.57v14.70a8.76 2.75 0 0 0 17.52 0v-14.70z" fill="url(#cyl)"/>
<path d="M561.78 315.57v14.70a8.76 2.75 0 0 0 17.52 0v-14.70z" fill="url(#cyl)"/>
<path d="M579.53 315.57v14.70a8.76 2.75 0 0 0 17.52 0v-14.70z" fill="url(#cyl)"/>
<path d="M597.27 315.57v14.70a8.76 2.75 0 0 0 17.52 0v-14.70z" fill="url(#cyl)"/>
<path d="M615.01 315.57v14.70a8.76 2.75 0 0 0 17.52 0v-14.70z" fill="url(#cyl)"/>
<path d="M632.75 315.57v14.70a8.76 2.75 0 0 0 17.52 0v-14.70z" fill="url(#cyl)"/>
<path d="M650.49 315.57v14.70a8.76 2.75 0 0 0 17.52 0v-14.70z" fill="url(#cyl)"/>
<path d="M668.23 315.57v14.70a8.76 2.75 0 0 0 17.52 0v-14.70z" fill="url(#cyl)"/>
<path d="M685.97 315.57v14.70a8.76 2.75 0 0 0 17.52 0v-14.70z" fill="url(#cyl)"/>
<ellipse cx="464.10" cy="315.57" rx="8.76" ry="2.75" fill="#4f2fef"/>
<ellipse cx="481.84" cy="315.57" rx="8.76" ry="2.75" fill="#2fe9ef"/>
<ellipse cx="499.58" cy="315.57" rx="8.76" ry="2.75" fill="#2f69ef"/>
<ellipse cx="517.32" cy="315.57" rx="8.76" ry="2.75" fill="#ef2fef"/>
<ellipse cx="535.06" cy="315.57" rx="8.76" ry="2.75" fill="#5fef2f"/>
<ellipse cx="552.80" cy="315.57" rx="8.76" ry="2.75" fill="#2f69ef"/>
<ellipse cx="570.54" cy="315.57" rx="8.76" ry="2.75" fill="#ef492f"/>
<ellipse cx="588.28" cy="315.57" rx="8.76" ry="2.75" fill="#2fcfef"/>
<ellipse cx="606.03" cy="315.57" rx="8.76" ry="2.75" fill="#2fe9ef"/>
<ellipse cx="623.77" cy="315.57" rx="8.76" ry="2.75" fill="#36ef2f"/>
<ellipse cx="641.51" cy="315.57" rx="8.76" ry="2.75" fill="#ef8f2f"/>
<ellipse cx="659.25" cy="315.57" rx="8.76" ry="2.75" fill="#2f49ef"/>
<ellipse cx="676.99" cy="315.57" rx="8.76" ry="2.75" fill="#2fd9ef"/>
<ellipse cx="694.73" cy="315.57" rx="8.76" ry="2.75" fill="#e9ef2f"/>
<path d="M450.90 320.50v15.22a9.10 2.95 0 0 0 18.20 0v-15.22z" fill="url(#cyl)"/>
<path d="M469.27 320.50v15.22a9.10 2.95 0 0 0 18.20 0v-15.22z" fill="url(#cyl)"/>
<path d="M487.64 320.50v15.22a9.10 2.95 0 0 0 18.20 0v-15.22z" fill="url(#cyl)"/>
<path d="M506.01 320.50v15.22a9.10 2.95 0 0 0 18.20 0v-15.22z" fill="url(#cyl)"/>
<path d="M524.38 320.50v15.22a9.10 2.95 0 0 0 18.20 0v-15.22z" fill="url(#cyl)"/>
<path d="M542.75 320.50v15.22a9.10 2.95 0 0 0 18.20 0v-15.22z" fill="url(#cyl)"/>
<path d="M561.12 320.50v15.22a9.10 2.95 0 0 0 18.20 0v-15.22z" fill="url(#cyl)"/>
<path d="M579.49 320.50v15.22a9.10 2.95 0 0 0 18.20 0v-15.22z" fill="url(#cyl)"/>
<path d="M597.86 320.50v15.22a9.10 2.95 0 0 0 18.20 0v-15.22z" fill="url(#cyl)"/>
<path d="M616.22 320.50v15.22a9.10 2.95 0 0 0 18.20 0v-15.22z" fill="url(#cyl)"/>
<path d="M634.59 320.50v15.22a9.10 2.95 0 0 0 18.20 0v-15.22z" fill="url(#cyl)"/>
<path d="M652.96 320.50v15.22a9.10 2.95 0 0 0 18.20 0v-15.22z" fill="url(#cyl)"/>
<path d="M671.33 320.50v15.22a9.10 2.95 0 0 0 18.20 0v-15.22z" fill="url(#cyl)"/>
<path d="M689.70 320.50v15.22a9.10 2.95 0 0 0 18.20 0v-15.22z" fill="url(#cyl)"/>
<ellipse cx="460.00" cy="320.50" rx="9.10" ry="2.95" fill="#5fef2f"/>
<ellipse cx="478.37" cy="320.50" rx="9.10" ry="2.95" fill="#cfef2f"/>
<ellipse cx="496.74" cy="320.50" rx="9.10" ry="2.95" fill="#ef2f2f"/>
<ellipse cx="515.11" cy="320.50" rx="9.10" ry="2.95" fill="#ef2fef"/>
<ellipse cx="533.48" cy="320.50" rx="9.10" ry="2.95" fill="#bfef2f"/>
<ellipse cx="551.84" cy="320.50" rx="9.10" ry="2.95" fill="#2fcfef"/>
<ellipse cx="570.21" cy="320.50" rx="9.10" ry="2.95" fill="#ef2fdf"/>
<ellipse cx="588.58" cy="320.50" rx="9.10" ry="2.95" fill="#ef2fef"/>
<ellipse cx="606.95" cy="320.50" rx="9.10" ry="2.95" fill="#2f7fef"/>
<ellipse cx="625.32" cy="320.50" rx="9.10" ry="2.95" fill="#2fef2f"/>
<ellipse cx="643.69" cy="320.50" rx="9.10" ry="2.95" fill="#d6ef2f"/>
<ellipse cx="662.06" cy="320.50" rx="9.10" ry="2.95" fill="#3f2fef"/>
<ellipse cx="680.43" cy="320.50" rx="9.10" ry="2.95" fill="#efa92f"/>
<ellipse cx="698.80" cy="320.50" rx="9.10" ry="2.95" fill="#892fef"/>
<path d="M446.13 325.79v15.78a9.46 3.17 0 0 0 18.93 0v-15.78z" fill="url(#cyl)"/>
<path d="M465.18 325.79v15.78a9.46 3.17 0 0 0 18.93 0v-15.78z" fill="url(#cyl)"/>
<path d="M484.22 325.79v15.78a9.46 3.17 0 0 0 18.93 0v-15.78z" fill="url(#cyl)"/>
<path d="M503.27 325.79v15.78a9.46 3.17 0 0 0 18.93 0v-15.78z" fill="url(#cyl)"/>
<path d="M522.31 325.79v15.78a9.46 3.17 0 0 0 18.93 0v-15.78z" fill="url(#cyl)"/>
<path d="M541.35 325.79v15.78a9.46 3.17 0 0 0 18.93 0v-15.78z" fill="url(#cyl)"/>
<path d="M560.40 325.79v15.78a9.46 3.17 0 0 0 18.93 0v-15.78z" fill="url(#cyl)"/>
<path d="M579.44 325.79v15.78a9.46 3.17 0 0 0 18.93 0v-15.78z" fill="url(#cyl)"/>
<path d="M598.48 325.79v15.78a9.46 3.17 0 0 0 18.93 0v-15.78z" fill="url(#cyl)"/>
<path d="M617.53 325.79v15.78a9.46 3.17 0 0 0 18.93 0v-15.78z" fill="url(#cyl)"/>
<path d="M636.57 325.79v15.78a9.46 3.17 0 0 0 18.93 0v-15.78z" fill="url(#cyl)"/>
<path d="M655.62 325.79v15.78a9.46 3.17 0 0 0 18.93 0v-15.78z" fill="url(#cyl)"/>
<path d="M674.66 325.79v15.78a9.46 3.17 0 0 0 18.93 0v-15.78z" fill="url(#cyl)"/>
<path d="M693.70 325.79v15.78a9.46 3.17 0 0 0 18.93 0v-15.78z" fill="url(#cyl)"/>
<ellipse cx="455.60" cy="325.79" rx="9.46" ry="3.17" fill="#2fbfef"/>
<ellipse cx="474.64" cy="325.79" rx="9.46" ry="3.17" fill="#5fef2f"/>
<ellipse cx="493.69" cy="325.79" rx="9.46" ry="3.17" fill="#ef2fcf"/>
<ellipse cx="512.73" cy="325.79" rx="9.46" ry="3.17" fill="#2fefef"/>
<ellipse cx="531.77" cy="325.79" rx="9.46" ry="3.17" fill="#ef2f4f"/>
<ellipse cx="550.82" cy="325.79" rx="9.46" ry="3.17" fill="#a92fef"/>
<ellipse cx="569.86" cy="325.79" rx="9.46" ry="3.17" fill="#ef562f"/>
<ellipse cx="588.90" cy="325.79" rx="9.46" ry="3.17" fill="#7fef2f"/>
<ellipse cx="607.95" cy="325.79" rx="9.46" ry="3.17" fill="#2f8fef"/>
<ellipse cx="626.99" cy="325.79" rx="9.46" ry="3.17" fill="#9f2fef"/>
<ellipse cx="646.03" cy="325.79" rx="9.46" ry="3.17" fill="#2fef5f"/>
<ellipse cx="665.08" cy="325.79" rx="9.46" ry="3.17" fill="#2f89ef"/>
<ellipse cx="684.12" cy="325.79" rx="9.46" ry="3.17" fill="#efef2f"/>
<ellipse cx="703.17" cy="325.79" rx="9.46" ry="3.17" fill="#7f2fef"/>
<path d="M441.00 331.48v16.38a9.86 3.41 0 0 0 19.72 0v-16.38z" fill="url(#cyl)"/>
<path d="M460.77 331.48v16.38a9.86 3.41 0 0 0 19.72 0v-16.38z" fill="url(#cyl)"/>
<path d="M480.54 331.48v16.38a9.86 3.41 0 0 0 19.72 0v-16.38z" fill="url(#cyl)"/>
<path d="M500.31 331.48v16.38a9.86 3.41 0 0 0 19.72 0v-16.38z" fill="url(#cyl)"/>
<path d="M520.08 331.48v16.38a9.86 3.41 0 0 0 19.72 0v-16.38z" fill="url(#cyl)"/>
<path d="M539.85 331.48v16.38a9.86 3.41 0 0 0 19.72 0v-16.38z" fill="url(#cyl)"/>
<path d="M559.62 331.48v16.38a9.86 3.41 0 0 0 19.72 0v-16.38z" fill="url(#cyl)"/>
<path d="M579.39 331.48v16.38a9.86 3.41 0 0 0 19.72 0v-16.38z" fill="url(#cyl)"/>
<path d="M599.16 331.48v16.38a9.86 3.41 0 0 0 19.72 0v-16.38z" fill="url(#cyl)"/>
<path d="M618.93 331.48v16.38a9.86 3.41 0 0 0 19.72 0v-16.38z" fill="url(#cyl)"/>
<path d="M638.70 331.48v16.38a9.86 3.41 0 0 0 19.72 0v-16.38z" fill="url(#cyl)"/>
<path d="M658.47 331.48v16.38a9.86 3.41 0 0 0 19.72 0v-16.38z" fill="url(#cyl)"/>
<path d="M678.24 331.48v16.38a9.86 3.41 0 0 0 19.72 0v-16.38z" fill="url(#cyl)"/>
<path d="M698.01 331.48v16.38a9.86 3.41 0 0 0 19.72 0v-16.38z" fill="url(#cyl)"/>
<ellipse cx="450.86" cy="331.48" rx="9.86" ry="3.41" fill="#2fefcf"/>
<ellipse cx="470.63" cy="331.48" rx="9.86" ry="3.41" fill="#36ef2f"/>
<ellipse cx="490.40" cy="331.48" rx="9.86" ry="3.41" fill="#9f2fef"/>
<ellipse cx="510.17" cy="331.48" rx="9.86" ry="3.41" fill="#7fef2f"/>
<ellipse cx="529.94" cy="331.48" rx="9.86" ry="3.41" fill="#2fefdf"/>
<ellipse cx="549.71" cy="331.48" rx="9.86" ry="3.41" fill="#2fbfef"/>
<ellipse cx="569.48" cy="331.48" rx="9.86" ry="3.41" fill="#ef762f"/>
<ellipse cx="589.25" cy="331.48" rx="9.86" ry="3.41" fill="#692fef"/>
<ellipse cx="609.02" cy="331.48" rx="9.86" ry="3.41" fill="#ef2fdf"/>
<ellipse cx="628.79" cy="331.48" rx="9.86" ry="3.41" fill="#2fef4f"/>
<ellipse cx="648.56" cy="331.48" rx="9.86" ry="3.41" fill="#2fef2f"/>
<ellipse cx="668.33" cy="331.48" rx="9.86" ry="3.41" fill="#2f56ef"/>
<ellipse cx="688.10" cy="331.48" rx="9.86" ry="3.41" fill="#2f6fef"/>
<ellipse cx="707.87" cy="331.48" rx="9.86" ry="3.41" fill="#cfef2f"/>
<path d="M435.46 337.63v17.03a10.29 3.69 0 0 0 20.58 0v-17.03z" fill="url(#cyl)"/>
<path d="M456.01 337.63v17.03a10.29 3.69 0 0 0 20.58 0v-17.03z" fill="url(#cyl)"/>
<path d="M476.57 337.63v17.03a10.29 3.69 0 0 0 20.58 0v-17.03z" fill="url(#cyl)"/>
<path d="M497.12 337.63v17.03a10.29 3.69 0 0 0 20.58 0v-17.03z" fill="url(#cyl)"/>
<path d="M517.67 337.63v17.03a10.29 3.69 0 0 0 20.58 0v-17.03z" fill="url(#cyl)"/>
<path d="M538.23 337.63v17.03a10.29 3.69 0 0 0 20.58 0v-17.03z" fill="url(#cyl)"/>
<path d="M558.78 337.63v17.03a10.29 3.69 0 0 0 20.58 0v-17.03z" fill="url(#cyl)"/>
<path d="M579.33 337.63v17.03a10.29 3.69 0 0 0 20.58 0v-17.03z" fill="url(#cyl)"/>
<path d="M599.88 337.63v17.03a10.29 3.69 0 0 0 20.58 0v-17.03z" fill="url(#cyl)"/>
<path d="M620.44 337.63v17.03a10.29 3.69 0 0 0 20.58 0v-17.03z" fill="url(#cyl)"/>
<path d="M640.99 337.63v17.03a10.29 3.69 0 0 0 20.58 0v-17.03z" fill="url(#cyl)"/>
<path d="M661.54 337.63v17.03a10.29 3.69 0 0 0 20.58 0v-17.03z" fill="url(#cyl)"/>
<path d="M682.09 337.63v17.03a10.29 3.69 0 0 0 20.58 0v-17.03z" fill="url(#cyl)"/>
<path d="M702.65 337.63v17.03a10.29 3.69 0 0 0 20.58 0v-17.03z" fill="url(#cyl)"/>
<ellipse cx="445.75" cy="337.63" rx="10.29" ry="3.69" fill="#8fef2f"/>
<ellipse cx="466.30" cy="337.63" rx="10.29" ry="3.69" fill="#e2ef2f"/>
<ellipse cx="486.86" cy="337.63" rx="10.29" ry="3.69" fill="#2f49ef"/>
<ellipse cx="507.41" cy="337.63" rx="10.29" ry="3.69" fill="#efd62f"/>
<ellipse cx="527.96" cy="337.63" rx="10.29" ry="3.69" fill="#2fef4f"/>
<ellipse cx="548.52" cy="337.63" rx="10.29" ry="3.69" fill="#5fef2f"/>
<ellipse cx="569.07" cy="337.63" rx="10.29" ry="3.69" fill="#2fef9f"/>
<ellipse cx="589.62" cy="337.63" rx="10.29" ry="3.69" fill="#2fdfef"/>
<ellipse cx="610.17" cy="337.63" rx="10.29" ry="3.69" fill="#2fef4f"/>
<ellipse cx="630.73" cy="337.63" rx="10.29" ry="3.69" fill="#ef7f2f"/>
<ellipse cx="651.28" cy="337.63" rx="10.29" ry="3.69" fill="#d62fef"/>
<ellipse cx="671.83" cy="337.63" rx="10.29" ry="3.69" fill="#7f2fef"/>
<ellipse cx="692.38" cy="337.63" rx="10.29" ry="3.69" fill="#efd62f"/>
<ellipse cx="712.94" cy="337.63" rx="10.29" ry="3.69" fill="#6fef2f"/>
<path d="M429.46 344.28v17.74a10.76 4.00 0 0 0 21.52 0v-17.74z" fill="url(#cyl)"/>
<path d="M450.86 344.28v17.74a10.76 4.00 0 0 0 21.52 0v-17.74z" fill="url(#cyl)"/>
<path d="M472.26 344.28v17.74a10.76 4.00 0 0 0 21.52 0v-17.74z" fill="url(#cyl)"/>
<path d="M493.66 344.28v17.74a10.76 4.00 0 0 0 21.52 0v-17.74z" fill="url(#cyl)"/>
<path d="M515.06 344.28v17.74a10.76 4.00 0 0 0 21.52 0v-17.74z" fill="url(#cyl)"/>
<path d="M536.46 344.28v17.74a10.76 4.00 0 0 0 21.52 0v-17.74z" fill="url(#cyl)"/>
<path d="M557.86 344.28v17.74a10.76 4.00 0 0 0 21.52 0v-17.74z" fill="url(#cyl)"/>
<path d="M579.26 344.28v17.74a10.76 4.00 0 0 0 21.52 0v-17.74z" fill="url(#cyl)"/>
<path d="M600.67 344.28v17.74a10.76 4.00 0 0 0 21.52 0v-17.74z" fill="url(#cyl)"/>
<path d="M622.07 344.28v17.74a10.76 4.00 0 0 0 21.52 0v-17.74z" fill="url(#cyl)"/>
<path d="M643.47 344.28v17.74a10.76 4.00 0 0 0 21.52 0v-17.74z" fill="url(#cyl)"/>
<path d="M664.87 344.28v17.74a10.76 4.00 0 0 0 21.52 0v-17.74z" fill="url(#cyl)"/>
<path d="M686.27 344.28v17.74a10.76 4.00 0 0 0 21.52 0v-17.74z" fill="url(#cyl)"/>
<path d="M707.67 344.28v17.74a10.76 4.00 0 0 0 21.52 0v-17.74z" fill="url(#cyl)"/>
<ellipse cx="440.22" cy="344.28" rx="10.76" ry="4.00" fill="#2f5fef"/>
<ellipse cx="461.62" cy="344.28" rx="10.76" ry="4.00" fill="#df2fef"/>
<ellipse cx="483.02" cy="344.28" rx="10.76" ry="4.00" fill="#efef2f"/>
<ellipse cx="504.42" cy="344.28" rx="10.76" ry="4.00" fill="#2f7fef"/>
<ellipse cx="525.82" cy="344.28" rx="10.76" ry="4.00" fill="#ef2f3f"/>
<ellipse cx="547.22" cy="344.28" rx="10.76" ry="4.00" fill="#2fef3f"/>
<ellipse cx="568.62" cy="344.28" rx="10.76" ry="4.00" fill="#2fdfef"/>
<ellipse cx="590.02" cy="344.28" rx="10.76" ry="4.00" fill="#2f7fef"/>
<ellipse cx="611.42" cy="344.28" rx="10.76" ry="4.00" fill="#ef2f4f"/>
<ellipse cx="632.82" cy="344.28" rx="10.76" ry="4.00" fill="#ef7f2f"/>
<ellipse cx="654.23" cy="344.28" rx="10.76" ry="4.00" fill="#2fefbf"/>
<ellipse cx="675.63" cy="344.28" rx="10.76" ry="4.00" fill="#ef9f2f"/>
<ellipse cx="697.03" cy="344.28" rx="10.76" ry="4.00" fill="#4f2fef"/>
<ellipse cx="718.43" cy="344.28" rx="10.76" ry="4.00" fill="#4fef2f"/>
<path d="M422.94 351.50v18.50a11.27 4.35 0 0 0 22.54 0v-18.50z" fill="url(#cyl)"/>
<path d="M445.26 351.50v18.50a11.27 4.35 0 0 0 22.54 0v-18.50z" fill="url(#cyl)"/>
<path d="M467.58 351.50v18.50a11.27 4.35 0 0 0 22.54 0v-18.50z" fill="url(#cyl)"/>
<path d="M489.90 351.50v18.50a11.27 4.35 0 0 0 22.54 0v-18.50z" fill="url(#cyl)"/>
<path d="M512.22 351.50v18.50a11.27 4.35 0 0 0 22.54 0v-18.50z" fill="url(#cyl)"/>
<path d="M534.55 351.50v18.50a11.27 4.35 0 0 0 22.54 0v-18.50z" fill="url(#cyl)"/>
<path d="M556.87 351.50v18.50a11.27 4.35 0 0 0 22.54 0v-18.50z" fill="url(#cyl)"/>
<path d="M579.19 351.50v18.50a11.27 4.35 0 0 0 22.54 0v-18.50z" fill="url(#cyl)"/>
<path d="M601.51 351.50v18.50a11.27 4.35 0 0 0 22.54 0v-18.50z" fill="url(#cyl)"/>
<path d="M623.83 351.50v18.50a11.27 4.35 0 0 0 22.54 0v-18.50z" fill="url(#cyl)"/>
<path d="M646.15 351.50v18.50a11.27 4.35 0 0 0 22.54 0v-18.50z" fill="url(#cyl)"/>
<path d="M668.47 351.50v18.50a11.27 4.35 0 0 0 22.54 0v-18.50z" fill="url(#cyl)"/>
<path d="M690.80 351.50v18.50a11.27 4.35 0 0 0 22.54 0v-18.50z" fill="url(#cyl)"/>
<path d="M713.12 351.50v18.50a11.27 4.35 0 0 0 22.54 0v-18.50z" fill="url(#cyl)"/>
<ellipse cx="434.21" cy="351.50" rx="11.27" ry="4.35" fill="#bf2fef"/>
<ellipse cx="456.53" cy="351.50" rx="11.27" ry="4.35" fill="#2fef3f"/>
<ellipse cx="478.85" cy="351.50" rx="11.27" ry="4.35" fill="#ef892f"/>
<ellipse cx="501.17" cy="351.50" rx="11.27" ry="4.35" fill="#5fef2f"/>
<ellipse cx="523.50" cy="351.50" rx="11.27" ry="4.35" fill="#ef2fdf"/>
<ellipse cx="545.82" cy="351.50" rx="11.27" ry="4.35" fill="#2f49ef"/>
<ellipse cx="568.14" cy="351.50" rx="11.27" ry="4.35" fill="#e2ef2f"/>
<ellipse cx="590.46" cy="351.50" rx="11.27" ry="4.35" fill="#ef2f49"/>
<ellipse cx="612.78" cy="351.50" rx="11.27" ry="4.35" fill="#ef2f2f"/>
<ellipse cx="635.10" cy="351.50" rx="11.27" ry="4.35" fill="#7f2fef"/>
<ellipse cx="657.42" cy="351.50" rx="11.27" ry="4.35" fill="#5fef2f"/>
<ellipse cx="679.75" cy="351.50" rx="11.27" ry="4.35" fill="#7f2fef"/>
<ellipse cx="702.07" cy="351.50" rx="11.27" ry="4.35" fill="#2fef3f"/>
<ellipse cx="724.39" cy="351.50" rx="11.27" ry="4.35" fill="#5f2fef"/>
</g>
</svg></body></html>
